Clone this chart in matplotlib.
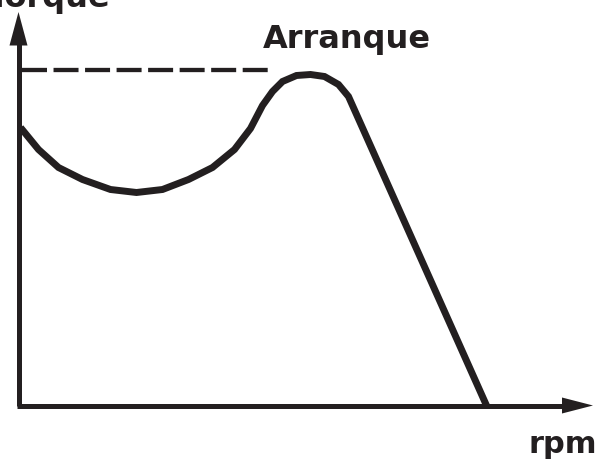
import matplotlib
matplotlib.use('Agg')
import matplotlib.pyplot as plt

# torque curve (arbitrary units, origin at the axes corner)
rpm = [2, 20, 40, 64, 92, 118, 144, 170, 194, 216, 232, 244, 254, 264, 278, 292, 306, 320, 330, 468]
torque = [278, 256, 238, 226, 216, 213, 216, 226, 238, 256, 277, 300, 314, 324, 330, 331, 329, 321, 309, 0]

# starting torque level (dashed line)
start_level = 335.5
start_rpm = [3, 250]

x_label = 'rpm'
y_label = 'Torque'
start_label = 'Arranque'

ink = '#231f20'
font = ['DejaVu Sans']

plt.rcParams['lines.scale_dashes'] = False

fig = plt.figure(figsize=(6.01, 4.59), dpi=100)
ax = fig.add_axes([0, 0, 1, 1])
ax.set_xlim(-18.5, 582.5)
ax.set_ylim(-53.5, 405.5)
ax.axis('off')

# axes with arrow heads
ax.plot([0, 0], [0, 365], color=ink, lw=3.6, solid_capstyle='butt')
ax.fill([-9, 9, 0], [360, 360, 393.5], color=ink, lw=0)
ax.plot([-2, 548], [0, 0], color=ink, lw=3.6, solid_capstyle='butt')
ax.fill([543.5, 543.5, 574.5], [8, -8, 0], color=ink, lw=0)

# dashed starting-torque line
ax.plot(start_rpm, [start_level, start_level], color=ink, lw=3.1,
        dashes=(18, 4.7), dash_capstyle='butt')

# torque curve
ax.plot(rpm, torque, color=ink, lw=5, solid_joinstyle='miter',
        solid_capstyle='butt')

ax.text(244.5, 357.5, start_label, ha='left', va='baseline', fontsize=23,
        fontweight='bold', family=font, color=ink)
ax.text(578.5, -47.5, x_label, ha='right', va='baseline', fontsize=22,
        fontweight='bold', family=font, color=ink)
ax.text(91.5, 398.5, y_label, ha='right', va='baseline', fontsize=23,
        fontweight='bold', family=font, color=ink, clip_on=False)

fig.savefig('out.png', dpi=100)
